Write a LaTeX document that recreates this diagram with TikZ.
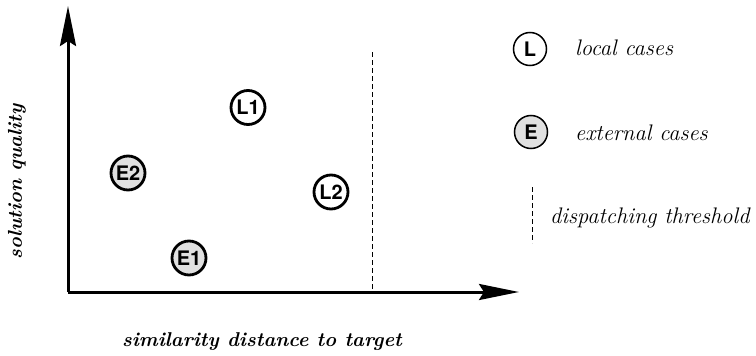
\documentclass[tikz,border=0pt]{standalone}
\usepackage{fontspec}
\newfontfamily\helv{TeX Gyre Heros}
\usetikzlibrary{arrows.meta}
\tikzset{
  casecirc/.style={circle, draw=black, line width=2.8pt, minimum size=34pt, inner sep=0pt, font=\helv\bfseries\fontsize{20}{20}\selectfont},
  legcirc/.style={circle, draw=black, line width=1.5pt, minimum size=33pt, inner sep=0pt, font=\helv\bfseries\fontsize{20}{20}\selectfont},
  localc/.style={fill=white},
  extc/.style={fill=black!12},
  axisline/.style={line width=3pt, -{Stealth[length=40pt,width=16pt,inset=5pt]}},
  thresh/.style={line width=1.2pt, dash pattern=on 5pt off 3pt},
  legtext/.style={font=\itshape\fontsize{22.5}{26}\selectfont, anchor=base west, inner sep=0pt},
  axtext/.style={font=\bfseries\itshape\fontsize{20}{24}\selectfont, inner sep=0pt},
}
\begin{document}
\begin{tikzpicture}[x=1pt,y=-1pt]
\useasboundingbox (0,0) rectangle (756,356);
\coordinate (O) at (68,292);
\coordinate (Ytip) at (68,6);
\coordinate (Xtip) at (519,292);
\draw[axisline] (O) -- (Ytip);
\draw[axisline] (O) -- (Xtip);
\coordinate (Tt) at (372.5,52);
\coordinate (Tb) at (372.5,292);
\draw[thresh] (Tt) -- (Tb);
\node[casecirc,localc] (L1) at (248,107.5) {L1};
\node[casecirc,extc] (E2) at (128,173) {E2};
\node[casecirc,localc] (L2) at (331,192) {L2};
\node[casecirc,extc] (E1) at (189,258) {E1};
\node[legcirc,localc] (LL) at (530,49) {L};
\node[legcirc,extc] (LE) at (531,132) {E};
\coordinate (Dt) at (532.5,187);
\coordinate (Db) at (532.5,243);
\draw[thresh] (Dt) -- (Db);
\node[legtext] (tl) at (575,55) {local cases};
\node[legtext] (te) at (575,140) {external cases};
\node[legtext] (td) at (550,223) {dispatching threshold};
\node[axtext, rotate=90] (ylab) at (17,182) {solution quality};
\node[axtext, anchor=base] (xlab) at (262,346) {similarity distance to target};
\end{tikzpicture}
\end{document}
